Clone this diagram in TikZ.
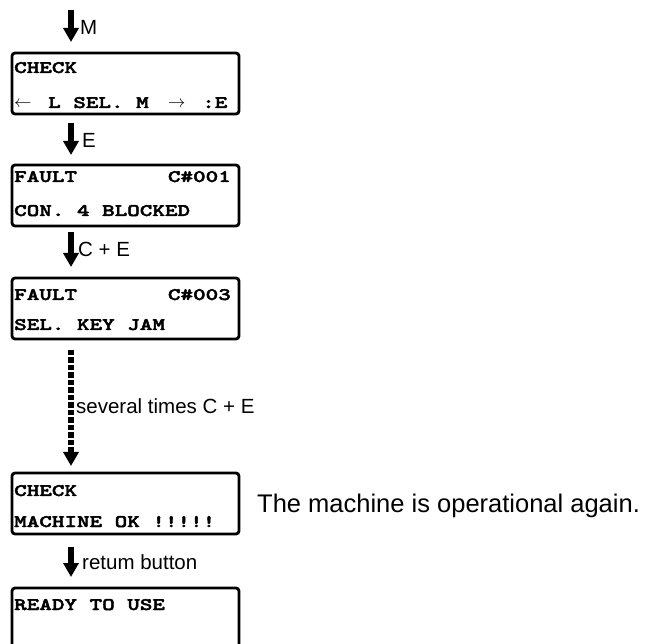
\documentclass[tikz,border=0pt]{standalone}
\usepackage{fontspec}
\setmainfont{Liberation Sans}
\newfontfamily\lcdfont{lmmonolt10-bold.otf}[FakeStretch=1.36,FakeBold=2.5]
\usetikzlibrary{arrows.meta}
\tikzset{
  lcdbox/.style={draw, line width=2.8pt, rounded corners=3pt, minimum width=227pt,
    minimum height=61pt, anchor=north west, inner sep=0pt, outer sep=0pt},
  lcdtext/.style={font=\lcdfont\fontsize{17.6}{20}\selectfont, inner sep=0pt, anchor=base west},
  lcdright/.style={lcdtext, anchor=base east},
  lcdarrow/.style={font=\fontsize{18}{20}\selectfont, inner sep=0pt, anchor=base west},
  keylabel/.style={font=\fontsize{20.5}{22}\selectfont, inner sep=0pt, anchor=base west},
  note/.style={font=\fontsize{25.5}{28}\selectfont, inner sep=0pt, anchor=base west},
  keyarrow/.style={line width=5.4pt, -{Triangle[width=15pt,length=14pt]}},
  repeatarrow/.style={keyarrow, dash pattern=on 5.5pt off 2pt},
}
\begin{document}
\begin{tikzpicture}[x=1pt,y=-1pt]
\clip (0,0) rectangle (654,644);
\fill[white] (0,0) rectangle (654,644);
\coordinate (col) at (71,0);
\coordinate (start) at (71,10);

% display panels
\node[lcdbox] (b1) at (12,53) {};
\node[lcdbox] (b2) at (12,165) {};
\node[lcdbox] (b3) at (12,278) {};
\node[lcdbox] (b4) at (12,473) {};
\node[lcdbox] (b5) at (12,588) {};

% panel 1
\node[lcdtext] (b1a) at (14,73) {CHECK};
\node[lcdarrow] (b1l) at (14,108) {$\leftarrow$};
\node[lcdtext] (b1m) at (48,108) {L SEL. M};
\node[lcdarrow] (b1r) at (168,108) {$\rightarrow$};
\node[lcdtext] (b1e) at (202,108) {:E};

% panel 2
\node[lcdtext] (b2a) at (14,182) {FAULT};
\node[lcdright] (b2c) at (231,182) {C\#001};
\node[lcdtext] (b2b) at (14,216) {CON. 4 BLOCKED};

% panel 3
\node[lcdtext] (b3a) at (14,300) {FAULT};
\node[lcdright] (b3c) at (231,300) {C\#003};
\node[lcdtext] (b3b) at (14,330) {SEL. KEY JAM};

% panel 4
\node[lcdtext] (b4a) at (14,496) {CHECK};
\node[lcdtext] (b4b) at (14,527) {MACHINE OK !!!!!};
\node[note] (n4) at (257,512) {The machine is operational again.};

% panel 5
\node[lcdtext] (b5a) at (14,610) {READY TO USE};

% key presses between panels
\draw[keyarrow, shorten >=11pt] (start) -- (col |- b1.north);
\node[keylabel] (lM) at (80,35) {M};

\draw[keyarrow, shorten <=9pt, shorten >=10pt] (col |- b1.south) -- (col |- b2.north);
\node[keylabel] (lE) at (82,148) {E};

\draw[keyarrow, shorten <=6pt, shorten >=11pt] (col |- b2.south) -- (col |- b3.north);
\node[keylabel] (lCE) at (78,257) {C + E};

\draw[repeatarrow, shorten <=11pt, shorten >=7pt] (col |- b3.south) -- (col |- b4.north);
\node[keylabel] (lRep) at (76,414) {several times C + E};

\draw[keyarrow, shorten <=13pt, shorten >=11pt] (col |- b4.south) -- (col |- b5.north);
\node[keylabel] (lRet) at (82,569) {retum button};
\end{tikzpicture}
\end{document}
